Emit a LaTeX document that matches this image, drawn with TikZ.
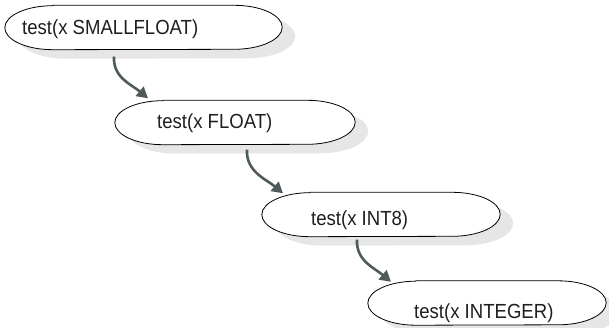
\documentclass[tikz,border=0pt]{standalone}
\usepackage{fontspec}
\setmainfont{Liberation Sans}
\newfontfamily\labelfont[FakeStretch=0.91]{Liberation Sans}
\usetikzlibrary{arrows.meta}
\definecolor{arrowc}{HTML}{4F5A5A}
\definecolor{shadowc}{HTML}{E6E6E6}
\tikzset{
  ovalbox/.style n args={2}{minimum width=#1, minimum height=#2, inner sep=0pt, draw=none},
  ovallabel/.style={anchor=base west, inner sep=0pt, font=\labelfont\fontsize{20.4pt}{22pt}\selectfont, text=black!88},
  flow/.style={draw=arrowc, line width=2.6pt, -{Triangle[length=11pt,width=12pt]}},
}
% oval outline with elliptical ends, offset by (#2,#3) from node #1
\newcommand\ovalpath[3]{%
  ([xshift=48pt+#2,yshift=#3]#1.north west) -- ([xshift=-48pt+#2,yshift=#3]#1.north east)
  arc[start angle=90,end angle=-90,x radius=48pt,y radius=22pt]
  -- ([xshift=48pt+#2,yshift=#3]#1.south west)
  arc[start angle=270,end angle=90,x radius=48pt,y radius=22pt] -- cycle}
\newcommand\drawoval[1]{%
  \fill[shadowc] \ovalpath{#1}{13pt}{-9pt};
  \fill[white] \ovalpath{#1}{0pt}{0pt};
  \draw[black, line width=0.8pt] \ovalpath{#1}{0pt}{0pt};}
\begin{document}
\begin{tikzpicture}[x=1pt,y=1pt]
\useasboundingbox (0,0) rectangle (609,327);
\node[ovalbox={277pt}{44pt}] (n1) at (143.5,299.5) {};
\node[ovalbox={240pt}{44pt}] (n2) at (235,204.5) {};
\node[ovalbox={238pt}{44pt}] (n3) at (381,112.5) {};
\node[ovalbox={238pt}{44pt}] (n4) at (487,24) {};
\drawoval{n1}
\drawoval{n2}
\drawoval{n3}
\drawoval{n4}
\node[ovallabel] (t1) at (22,292) {test(x SMALLFLOAT)};
\node[ovallabel] (t2) at (157,198) {test(x FLOAT)};
\node[ovallabel] (t3) at (311,102) {test(x INT8)};
\node[ovallabel] (t4) at (414,9) {test(x INTEGER)};
\draw[flow] ([shift={(-29.5,-7)}]n1.south) to[out=-93,in=140] ([shift={(-87,2)}]n2.north);
\draw[flow] ([shift={(12,-5)}]n2.south) to[out=-93,in=140] ([shift={(-98,-1)}]n3.north);
\draw[flow] ([shift={(-24,-3)}]n3.south) to[out=-93,in=140] ([shift={(-96,-1)}]n4.north);
\end{tikzpicture}
\end{document}
